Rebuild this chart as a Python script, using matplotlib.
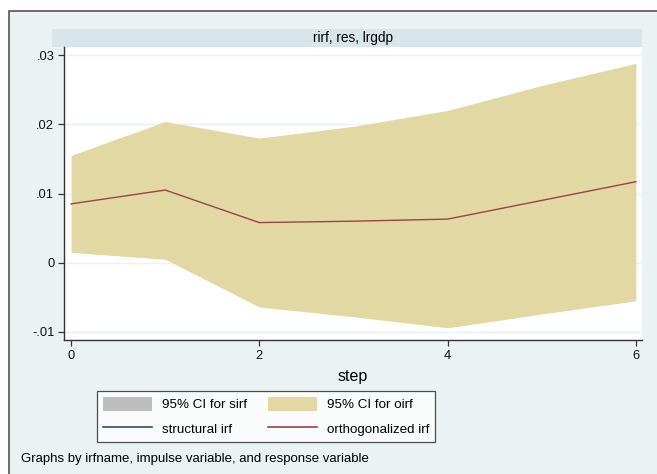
import matplotlib.pyplot as plt
from matplotlib.patches import Rectangle, Patch
from matplotlib.lines import Line2D

# impulse response: rirf, res -> lrgdp (orthogonalized irf with 95% CI)
steps = [0, 1, 2, 3, 4, 5, 6]
oirf = [0.0085, 0.0105, 0.0058, 0.0060, 0.0063, 0.0090, 0.0117]
oirf_upper = [0.0155, 0.0204, 0.0180, 0.0197, 0.0220, 0.0256, 0.0288]
oirf_lower = [0.0015, 0.0005, -0.0064, -0.0078, -0.0094, -0.0074, -0.0055]

y_ticks = [-0.01, 0, 0.01, 0.02, 0.03]
y_labels = ['-.01', '0', '.01', '.02', '.03']
x_ticks = [0, 2, 4, 6]

W, H = 657, 474
bg = '#EAF2F3'
sand = '#E2D8A4'
maroon = '#9A4246'
navy = '#2A4D74'

plt.rcParams['font.family'] = ['Liberation Sans', 'DejaVu Sans']

fig = plt.figure(figsize=(W / 100, H / 100), dpi=100, facecolor='white')

# outer graph frame (stata-like background)
fig.patches.append(Rectangle((9 / W, -0.01), 1, 1.01 - 11 / H, transform=fig.transFigure,
                             facecolor=bg, edgecolor='#555555', linewidth=1.2, zorder=-2))
# strip header for the by-group
fig.patches.append(Rectangle((52 / W, 1 - 47 / H), (642 - 52) / W, 18 / H,
                             transform=fig.transFigure, facecolor='#D8E5EA',
                             edgecolor='none', zorder=-1))
fig.text(353 / W, 1 - 38 / H, 'rirf, res, lrgdp', ha='center', va='center', fontsize=9.8)

ax = fig.add_axes([64 / W, 1 - 340 / H, (642 - 64) / W, (340 - 47) / H])
ax.set_zorder(1)
ax.set_facecolor('white')

ax.fill_between(steps, oirf_lower, oirf_upper, color=sand, linewidth=0, zorder=2)
ax.plot(steps, oirf, color=maroon, linewidth=1.0, zorder=3)

ax.set_xlim(-0.075, 6.065)
ax.set_ylim(-0.01116, 0.03116)
ax.set_yticks(y_ticks)
ax.set_yticklabels(y_labels)
ax.set_xticks(x_ticks)
for yv in y_ticks:
    ax.axhline(yv, color=bg, linewidth=1.0, zorder=1)

for s in ['top', 'right']:
    ax.spines[s].set_visible(False)
for s in ['left', 'bottom']:
    ax.spines[s].set_color('#333333')
    ax.spines[s].set_linewidth(1.0)
ax.tick_params(axis='both', direction='out', length=4, width=0.9, color='#333333',
               labelsize=9.3, labelcolor='#111111')
ax.tick_params(axis='x', pad=3)
ax.tick_params(axis='y', pad=3)
ax.set_xlabel('step', fontsize=11.5, labelpad=5)

handles = [Patch(facecolor='#BEBEBE', edgecolor='none'),
           Line2D([], [], color=navy, linewidth=1.2),
           Patch(facecolor=sand, edgecolor='none'),
           Line2D([], [], color=maroon, linewidth=1.2)]
labels = ['95% CI for sirf', 'structural irf', '95% CI for oirf', 'orthogonalized irf']
leg = fig.legend(handles, labels, ncol=2, loc='center',
                 bbox_to_anchor=(266 / W, 1 - 416.5 / H), fontsize=9.6,
                 frameon=True, fancybox=False, edgecolor='#222222',
                 handlelength=3.7, handleheight=1.3, handletextpad=0.7,
                 columnspacing=1.6, borderpad=0.45, labelspacing=0.75)
leg.get_frame().set_linewidth(0.9)
leg.get_frame().set_facecolor('white')

fig.text(21 / W, 1 - 459 / H, 'Graphs by irfname, impulse variable, and response variable',
         ha='left', va='center', fontsize=9.5)

fig.savefig('out.png', dpi=100, facecolor=fig.get_facecolor())
